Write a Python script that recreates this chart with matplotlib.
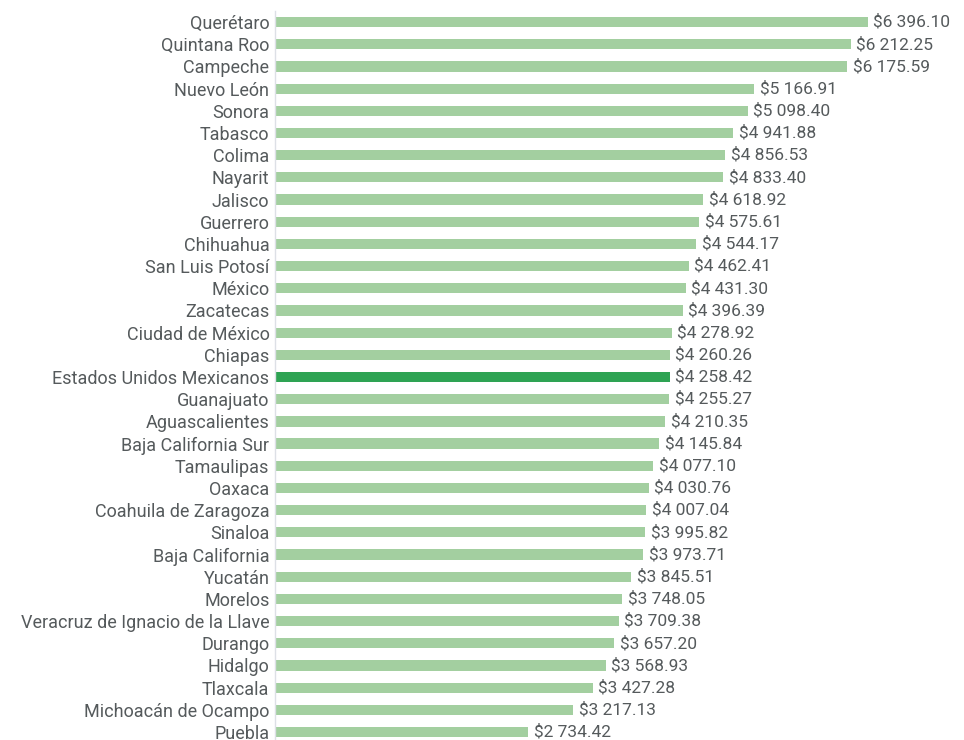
import matplotlib
matplotlib.use("Agg")
import matplotlib.pyplot as plt
from matplotlib import font_manager

names = {f.name for f in font_manager.fontManager.ttflist}
fam = "Liberation Sans Narrow" if "Liberation Sans Narrow" in names else "Roboto"
plt.rcParams['font.family'] = [fam, 'DejaVu Sans']

estados = ["Querétaro", "Quintana Roo", "Campeche", "Nuevo León", "Sonora", "Tabasco",
           "Colima", "Nayarit", "Jalisco", "Guerrero", "Chihuahua", "San Luis Potosí",
           "México", "Zacatecas", "Ciudad de México", "Chiapas", "Estados Unidos Mexicanos",
           "Guanajuato", "Aguascalientes", "Baja California Sur", "Tamaulipas", "Oaxaca",
           "Coahuila de Zaragoza", "Sinaloa", "Baja California", "Yucatán", "Morelos",
           "Veracruz de Ignacio de la Llave", "Durango", "Hidalgo", "Tlaxcala",
           "Michoacán de Ocampo", "Puebla"]
valores = [6396.10, 6212.25, 6175.59, 5166.91, 5098.40, 4941.88, 4856.53, 4833.40,
           4618.92, 4575.61, 4544.17, 4462.41, 4431.30, 4396.39, 4278.92, 4260.26,
           4258.42, 4255.27, 4210.35, 4145.84, 4077.10, 4030.76, 4007.04, 3995.82,
           3973.71, 3845.51, 3748.05, 3709.38, 3657.20, 3568.93, 3427.28, 3217.13,
           2734.42]
nacional = "Estados Unidos Mexicanos"

fig = plt.figure(figsize=(9.64, 7.4), dpi=100)
ax = fig.add_axes([275/964, 0, 689/964, 1 - 11/740])

ypos = list(range(len(estados)))
colores = ["#2ea353" if e == nacional else "#a3cfa0" for e in estados]
ax.barh(ypos, valores, height=0.46, color=colores)

def fmt(v):
    return "$" + f"{v:,.2f}".replace(",", " ")

for y, v in zip(ypos, valores):
    ax.text(v + 60, y, fmt(v), va="center", ha="left", fontsize=12.5, color="#555a5c")

ax.set_yticks(ypos)
ax.set_yticklabels(estados, fontsize=13, color="#555a5c")
ax.tick_params(axis="y", length=0, pad=4)
ax.set_xticks([])
ax.set_xlim(0, 689 / 0.0927)
ax.set_ylim(32 + 8/22.19, -0.5)
for s in ["top", "right", "bottom"]:
    ax.spines[s].set_visible(False)
ax.spines["left"].set_color("#dde0e6")
ax.spines["left"].set_linewidth(1)

fig.savefig("out.png", dpi=100)
